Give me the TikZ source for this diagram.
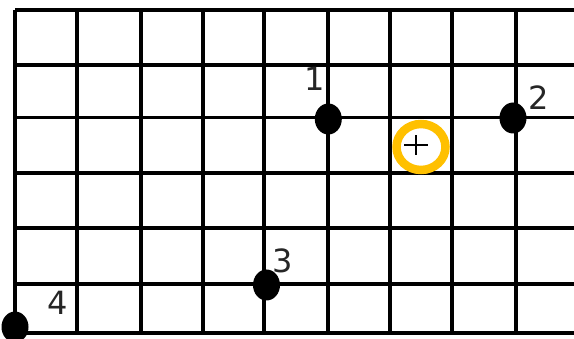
\documentclass[tikz,border=0pt]{standalone}
\usepackage{fontspec}
\setmainfont{DejaVu Sans}
\usetikzlibrary{shapes.geometric}
\definecolor{ringgold}{RGB}{255,192,0}
\tikzset{
  gridline/.style={line width=3.4pt, draw=black},
  dot/.style={ellipse, fill=black, minimum width=27pt, minimum height=31pt, inner sep=0pt},
  numlabel/.style={font=\fontsize{32}{32}\selectfont, inner sep=0pt, text=black!85},
  ring/.style={ellipse, draw=ringgold, line width=8.5pt, minimum width=49pt, minimum height=46pt, inner sep=0pt},
  plusline/.style={line width=2.6pt, draw=black},
}
\begin{document}
\begin{tikzpicture}[x=1pt,y=-1pt]
\useasboundingbox (0,0) rectangle (574,339);
% vertical lines
\foreach \xx in {15,77,141,203,264,328,390,452,516}
  \draw[gridline] (\xx,10) -- (\xx,333);
% horizontal lines
\foreach \yy in {10,65,117.5,173,228,284,333}
  \draw[gridline] (15,\yy) -- (574,\yy);
% ring with plus
\node[ring] (target) at (421,147) {};
\coordinate (pc) at (416,145);
\draw[plusline] ([xshift=-12pt]pc) -- ([xshift=12pt]pc);
\draw[plusline] ([yshift=-10pt]pc) -- ([yshift=10pt]pc);
% points
\node[dot] (p1) at (328.3,119) {};
\node[dot] (p2) at (513,118) {};
\node[dot] (p3) at (266.5,285) {};
\node[dot] (p4) at (15,327) {};
% labels
\node[numlabel] (l1) at (315,79) {1};
\node[numlabel] (l2) at (539,98) {2};
\node[numlabel] (l3) at (283,261) {3};
\node[numlabel] (l4) at (58,303) {4};
\end{tikzpicture}
\end{document}
